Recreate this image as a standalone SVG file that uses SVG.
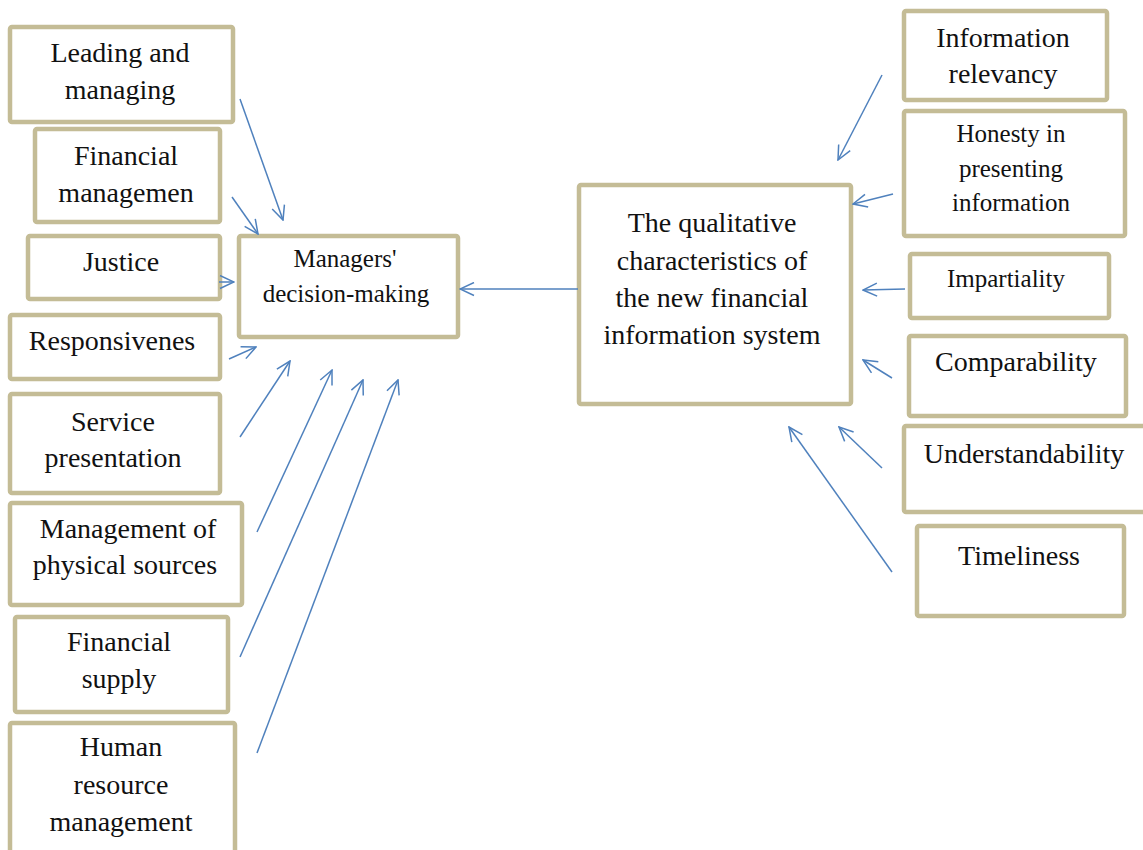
<svg xmlns="http://www.w3.org/2000/svg" width="1143" height="850" viewBox="0 0 1143 850">
<style>
.box{fill:#fff;stroke:#C4BC96;stroke-width:4.5}
.t{fill:#111;text-anchor:middle}
.l{font-size:28px}
.m{font-size:28px}
.s{font-size:25px}
.xs{font-size:25px}
.c{fill:none;stroke:#4F81BD;stroke-width:1.5;marker-end:url(#ah)}
</style>
<defs>
<marker id="ah" markerUnits="userSpaceOnUse" viewBox="0 0 16 15" refX="15" refY="7.5" markerWidth="16" markerHeight="15" orient="auto">
<path d="M1,1 L15,7.5 L1,14" fill="none" stroke="#4F81BD" stroke-width="1.5"/>
</marker>
</defs>
<rect width="1143" height="850" fill="#fff"/>
<g id="nodes" font-family="Liberation Serif, Times New Roman, serif">
<g id="n-leading"><rect class="box" x="10" y="27" width="223" height="95" rx="2"/><text class="t l" x="120" y="62">Leading and</text><text class="t l" x="120" y="99">managing</text></g>
<g id="n-finman"><rect class="box" x="35" y="129" width="185" height="93" rx="2"/><text class="t l" x="126" y="165">Financial</text><text class="t l" x="126" y="202">managemen</text></g>
<g id="n-justice"><rect class="box" x="28" y="236" width="192" height="63" rx="2"/><text class="t l" x="121" y="271">Justice</text></g>
<g id="n-resp"><rect class="box" x="10" y="315" width="210" height="64" rx="2"/><text class="t l" x="112" y="350">Responsivenes</text></g>
<g id="n-service"><rect class="box" x="10" y="394" width="210" height="99" rx="2"/><text class="t l" x="113" y="431">Service</text><text class="t l" x="113" y="467">presentation</text></g>
<g id="n-physical"><rect class="box" x="10" y="503" width="232" height="102" rx="2"/><text class="t l" x="128" y="538">Management of</text><text class="t l" x="125" y="574">physical sources</text></g>
<g id="n-supply"><rect class="box" x="15" y="617" width="213" height="95" rx="2"/><text class="t l" x="119" y="651">Financial</text><text class="t l" x="119" y="688">supply</text></g>
<g id="n-human"><rect class="box" x="10" y="723" width="225" height="140" rx="2"/><text class="t l" x="121" y="756">Human</text><text class="t l" x="121" y="794">resource</text><text class="t l" x="121" y="831">management</text></g>
<g id="n-managers"><rect class="box" x="239" y="236" width="219" height="101" rx="2"/><text class="t s" x="345" y="267">Managers'</text><text class="t s" x="346" y="302">decision-making</text></g>
<g id="n-qual"><rect class="box" x="579" y="185" width="272" height="219" rx="2"/><text class="t m" x="712" y="232">The qualitative</text><text class="t m" x="712" y="270">characteristics of</text><text class="t m" x="712" y="307">the new financial</text><text class="t m" x="712" y="344">information system</text></g>
<g id="n-relev"><rect class="box" x="904" y="11" width="203" height="89" rx="2"/><text class="t l" x="1003" y="47">Information</text><text class="t l" x="1003" y="83">relevancy</text></g>
<g id="n-honesty"><rect class="box" x="904" y="111" width="221" height="125" rx="2"/><text class="t xs" x="1011" y="142">Honesty in</text><text class="t xs" x="1011" y="177">presenting</text><text class="t xs" x="1011" y="211">information</text></g>
<g id="n-impart"><rect class="box" x="910" y="254" width="199" height="64" rx="2"/><text class="t xs" x="1006" y="287">Impartiality</text></g>
<g id="n-compar"><rect class="box" x="909" y="336" width="217" height="80" rx="2"/><text class="t l" x="1016" y="371">Comparability</text></g>
<g id="n-under"><rect class="box" x="904" y="426" width="250" height="86" rx="2"/><text class="t l" x="1024" y="463">Understandability</text></g>
<g id="n-time"><rect class="box" x="917" y="526" width="207" height="90" rx="2"/><text class="t l" x="1019" y="565">Timeliness</text></g>
</g>
<g id="connectors">
<line class="c" x1="240" y1="99" x2="283" y2="220"/>
<line class="c" x1="232" y1="197" x2="258" y2="234"/>
<line class="c" x1="219" y1="282" x2="234" y2="282"/>
<line class="c" x1="229" y1="359" x2="256" y2="347"/>
<line class="c" x1="240" y1="437" x2="290" y2="361"/>
<line class="c" x1="257" y1="532" x2="332" y2="370"/>
<line class="c" x1="240" y1="657" x2="363" y2="380"/>
<line class="c" x1="257" y1="753" x2="398" y2="380"/>
<line class="c" x1="578" y1="289" x2="460" y2="289"/>
<line class="c" x1="882" y1="75" x2="838" y2="160"/>
<line class="c" x1="893" y1="194" x2="853" y2="204"/>
<line class="c" x1="905" y1="289" x2="863" y2="290"/>
<line class="c" x1="892" y1="378" x2="863" y2="360"/>
<line class="c" x1="882" y1="468" x2="839" y2="427"/>
<line class="c" x1="892" y1="572" x2="789" y2="427"/>
</g>
</svg>
